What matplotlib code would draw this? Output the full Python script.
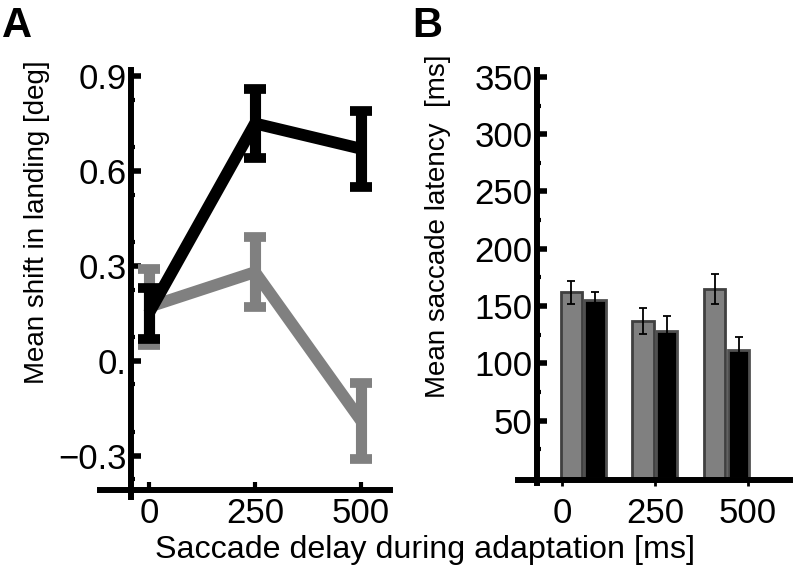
import matplotlib
matplotlib.use('Agg')
import matplotlib.pyplot as plt
import numpy as np

plt.rcParams['font.family'] = ['Liberation Sans', 'DejaVu Sans']

# panel A data
delays = [0, 250, 500]
black_shift = [0.15, 0.75, 0.67]
black_shift_err = [0.08, 0.11, 0.12]
gray_shift = [0.17, 0.28, -0.19]
gray_shift_err = [0.12, 0.11, 0.12]

# panel B data
latency_labels = ['0', '250', '500']
gray_latency = [162, 137, 165]
gray_latency_err = [10, 11, 13]
black_latency = [155, 128, 112]
black_latency_err = [7, 13, 11]

W, H = 798, 573


def box(x0, y0, x1, y1):
    # pixel box -> figure fraction
    return [x0 / W, 1 - y1 / H, (x1 - x0) / W, (y1 - y0) / H]


fig = plt.figure(figsize=(W / 100, H / 100), dpi=100)

# ---- panel A ----
ax1 = fig.add_axes(box(100, 70, 390, 497))
ax1.plot(delays, gray_shift, color='#808080', lw=8.5, solid_capstyle='butt')
ax1.errorbar(delays, gray_shift, yerr=gray_shift_err, fmt='none', ecolor='#808080',
             elinewidth=8, capsize=8, capthick=7)
ax1.plot(delays, black_shift, color='black', lw=8.5, solid_capstyle='butt')
ax1.errorbar(delays, black_shift, yerr=black_shift_err, fmt='none', ecolor='black',
             elinewidth=8, capsize=8, capthick=7)
ax1.set_xlim(-115, 568)
ax1.set_ylim(-0.431, 0.919)
for s in ['top', 'right']:
    ax1.spines[s].set_visible(False)
ax1.spines['left'].set_position(('data', -42))
ax1.spines['bottom'].set_position(('data', -0.41))
ax1.spines['left'].set_linewidth(4.3)
ax1.spines['bottom'].set_linewidth(4.3)
ax1.set_yticks([-0.3, 0, 0.3, 0.6, 0.9])
ax1.set_yticklabels(['\u22120.3', '0.', '0.3', '0.6', '0.9'])
ax1.set_yticks(np.arange(-0.375, 0.9, 0.15), minor=True)
ax1.set_xticks(delays)
ax1.tick_params(axis='y', which='major', direction='in', length=7, width=4, labelsize=25, pad=3)
ax1.tick_params(axis='y', which='minor', direction='in', length=3, width=3)
ax1.tick_params(axis='x', direction='in', length=6, width=3, labelsize=25, pad=5)

# ---- panel B ----
ax2 = fig.add_axes(box(518, 70, 790, 483))
group_x = np.array([57, 250, 443])
off = 32
bw = 57
ax2.bar(group_x - off, gray_latency, bw, color='#808080', edgecolor='#404040', lw=2)
ax2.bar(group_x + off, black_latency, bw, color='black', edgecolor='#505050', lw=2)
ax2.errorbar(group_x - off, gray_latency, yerr=gray_latency_err, fmt='none',
             ecolor='black', elinewidth=1.3, capsize=3, capthick=1.3)
ax2.errorbar(group_x + off, black_latency, yerr=black_latency_err, fmt='none',
             ecolor='black', elinewidth=1.3, capsize=3, capthick=1.3)
ax2.set_xlim(-118, 613)
ax2.set_ylim(-4.4, 356)
for s in ['top', 'right']:
    ax2.spines[s].set_visible(False)
ax2.spines['left'].set_position(('data', -67))
ax2.spines['bottom'].set_position(('data', -2))
ax2.spines['left'].set_linewidth(4.3)
ax2.spines['bottom'].set_linewidth(4.3)
ax2.set_yticks(np.arange(50, 351, 50))
ax2.set_yticks(np.arange(25, 351, 50), minor=True)
ax2.set_xticks([0, 250, 500])
ax2.set_xticklabels(latency_labels)
ax2.tick_params(axis='y', which='major', direction='in', length=7, width=4, labelsize=25, pad=3)
ax2.tick_params(axis='y', which='minor', direction='in', length=3, width=3)
ax2.tick_params(axis='x', direction='out', length=4, width=2, labelsize=25, pad=8)

# axis labels placed as in the original layout
fig.text(37 / W, 1 - 222 / H, 'Mean shift in landing [deg]', fontsize=20,
         rotation=90, ha='center', va='center')
fig.text(438 / W, 1 - 226 / H, 'Mean saccade latency  [ms]', fontsize=20,
         rotation=90, ha='center', va='center')
fig.text(425 / W, 1 - 550 / H, 'Saccade delay during adaptation [ms]', fontsize=23.2,
         ha='center', va='center')
fig.text(2 / W, 1 - 26 / H, 'A', fontsize=30, fontweight='bold', va='center')
fig.text(412 / W, 1 - 26 / H, 'B', fontsize=30, fontweight='bold', va='center')

fig.savefig('out.png', dpi=100)
